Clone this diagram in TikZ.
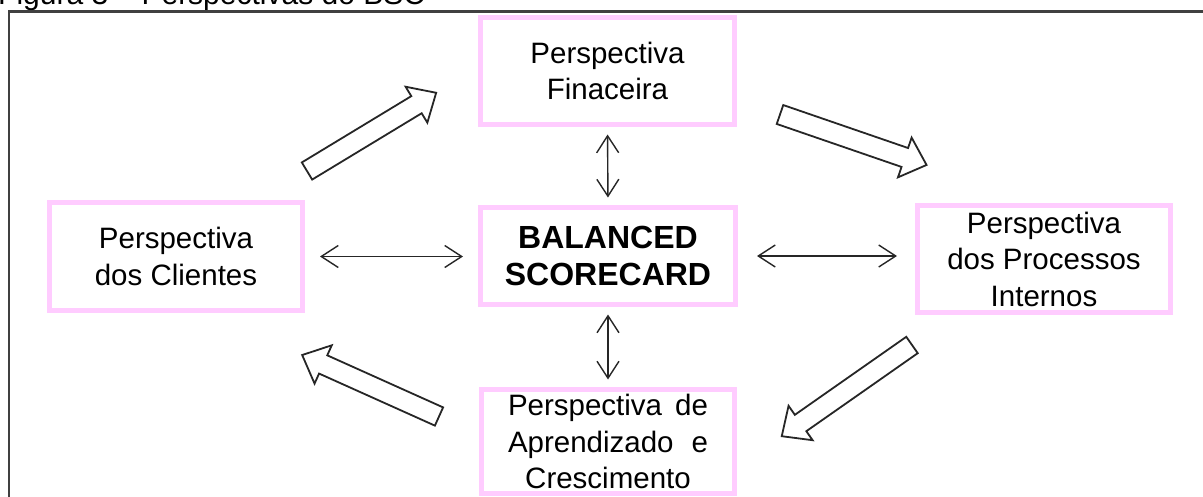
\documentclass[tikz,border=0pt]{standalone}
\usepackage{fontspec}
\setmainfont{Liberation Sans}
\usetikzlibrary{arrows.meta,calc}
\definecolor{pinkborder}{RGB}{255,204,255}
\definecolor{framegray}{RGB}{64,64,64}
\tikzset{
  persp/.style={draw=pinkborder, line width=5pt, fill=white, inner sep=0pt, align=center,
    font=\fontsize{29.5}{36.5}\selectfont, text=black},
  dblarrow/.style={line width=1.4pt, draw=black!85,
    {Straight Barb[length=17pt,width=22pt]}-{Straight Barb[length=17pt,width=22pt]}},
  blockarrow/.style={draw=black!85, line width=1.8pt, fill=white, line join=miter},
  framestyle/.style={line width=2.5pt, draw=framegray},
}
\newcommand{\blockarr}[4]{%
  \begin{scope}[shift={(#1,#2)}, rotate=#3]
    \draw[blockarrow] (0,-10) -- (#4-23,-10) -- (#4-23,-21) -- (#4,0) -- (#4-23,21) -- (#4-23,10) -- (0,10) -- cycle;
  \end{scope}}
\begin{document}
\begin{tikzpicture}[x=1pt,y=1pt]
  \useasboundingbox (0,0) rectangle (1203,-496);
  \clip (0,0) rectangle (1203,-496);
  \fill[white] (0,0) rectangle (1203,-496);
  % title (cut off at the top)
  \node[anchor=base west, inner sep=0pt, font=\fontsize{30}{36}\selectfont] (title) at (-2,-4) {Figura 3 – Perspectivas do BSC};
  % frame
  \draw[framestyle] (9,-520) -- (9,-11.5) -- (1230,-11.5);
  % boxes
  \node[persp, minimum width=254pt, minimum height=107pt] (fin) at (607.5,-71) {Perspectiva\\Finaceira};
  \node[persp, minimum width=253pt, minimum height=108pt] (cli) at (176,-256.5) {Perspectiva\\dos Clientes};
  \node[persp, minimum width=255pt, minimum height=97pt, font=\fontsize{32}{37}\selectfont\bfseries] (bsc) at (608,-256) {BALANCED\\SCORECARD};
  \node[persp, minimum width=253pt, minimum height=107pt] (proc) at (1044,-259) {Perspectiva\\dos Processos\\Internos};
  \node[persp, minimum width=253pt, minimum height=104pt] (apr) at (608,-441.5) {\makebox[200pt][s]{Perspectiva de}\\\makebox[200pt][s]{Aprendizado e}\\Crescimento};
  % double arrows
  \draw[dblarrow, shorten >=7.5pt, shorten <=7.5pt] (fin.south) -- (bsc.north);
  \draw[dblarrow, shorten >=7.5pt, shorten <=7.5pt] (bsc.south) -- (apr.north);
  \draw[dblarrow, shorten >=15pt, shorten <=15pt] (cli.east) -- (cli.east -| bsc.west);
  \draw[dblarrow, shorten >=18pt, shorten <=19pt] (bsc.east) -- (bsc.east -| proc.west);
  % block arrows (cycle)
  \blockarr{307}{-171}{31.2}{151}
  \blockarr{780}{-114.5}{-19}{155}
  \blockarr{912}{-345}{215}{159}
  \blockarr{439}{-416.5}{155.8}{150}
\end{tikzpicture}
\end{document}
